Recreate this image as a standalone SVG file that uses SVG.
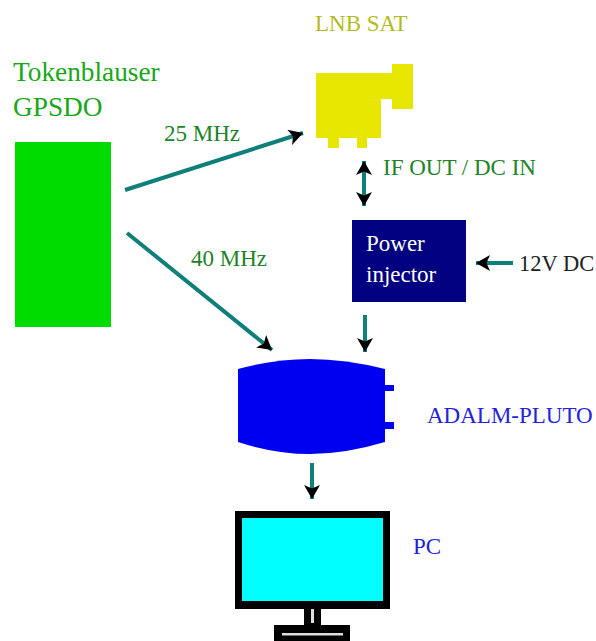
<svg xmlns="http://www.w3.org/2000/svg" width="596" height="641" viewBox="0 0 596 641">
<style>
text{font-family:"Liberation Serif","Times New Roman",serif;font-size:23px}
.dg{fill:#1d8428}
.bl{fill:#2222dd}
.big{font-size:27.300px;fill:#18a818}
.c{fill:none;stroke:#0f7f7a;stroke-width:4}
</style>
<defs>
<marker id="a" markerUnits="userSpaceOnUse" markerWidth="16" markerHeight="16" refX="14" refY="8" orient="auto-start-reverse" viewBox="0 0 16 16"><path d="M0 0L14 8L0 16L3.500 8Z" fill="#000"/></marker>
</defs>
<rect width="596" height="641" fill="#fff"/>
<g id="connectors">
<line class="c" x1="125" y1="190" x2="303" y2="133" marker-end="url(#a)"/>
<line class="c" x1="127" y1="233" x2="272" y2="350" marker-end="url(#a)"/>
<line class="c" x1="364" y1="161" x2="364" y2="206" marker-start="url(#a)" marker-end="url(#a)"/>
<line class="c" x1="513" y1="263" x2="476" y2="263" marker-end="url(#a)"/>
<line class="c" x1="365" y1="315" x2="365" y2="352" marker-end="url(#a)"/>
<line class="c" x1="312" y1="463" x2="312" y2="499" marker-end="url(#a)"/>
</g>
<g id="gpsdo">
<rect x="15" y="142" width="96" height="185" fill="#00dc00"/>
<text x="13" y="81" class="big">Tokenblauser</text>
<text x="13" y="116" class="big">GPSDO</text>
</g>
<g id="lnb">
<path d="M316 73H392V64H413V109H392V99H381V138H367V148H357V138H339V148H328V138H316Z" fill="#e6e600"/>
<text x="315" y="31" fill="#b4bb22">LNB SAT</text>
</g>
<g id="injector">
<rect x="352" y="220" width="114" height="82" fill="#000080"/>
<text x="366" y="251" fill="#fff">Power</text>
<text x="366" y="282" fill="#fff">injector</text>
</g>
<g id="pluto">
<path d="M238 369Q275 359 310 359Q345 359 385 369V442Q345 454 310 454Q275 454 238 442Z" fill="#0000f0"/>
<rect x="384" y="385" width="10" height="6" fill="#0000f0"/>
<rect x="384" y="422" width="10" height="7" fill="#0000f0"/>
<text x="427" y="423" class="bl">ADALM-PLUTO</text>
</g>
<g id="pc">
<rect x="235" y="511" width="155" height="98" fill="#000"/>
<rect x="242" y="518" width="141" height="83" fill="#00ffff"/>
<rect x="304" y="609" width="17" height="16" fill="#000"/>
<rect x="311" y="609" width="3" height="14" fill="#ddd"/>
<rect x="274" y="625" width="76" height="16" fill="#000"/>
<rect x="282" y="633" width="61" height="2.500" fill="#ddd"/>
<text x="413" y="554" class="bl">PC</text>
</g>
<g id="labels">
<text x="164" y="141" class="dg">25 MHz</text>
<text x="191" y="266" class="dg">40 MHz</text>
<text x="383" y="175" class="dg">IF OUT / DC IN</text>
<text x="519" y="271" fill="#222" style="font-size:22.500px">12V DC</text>
</g>
</svg>
